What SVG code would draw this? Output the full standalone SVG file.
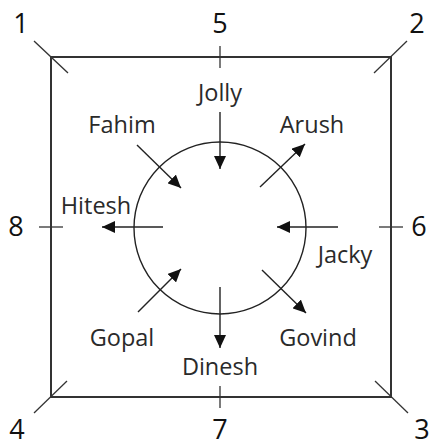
<svg xmlns="http://www.w3.org/2000/svg" width="435" height="442" viewBox="0 0 435 442">
<style>
.frame{fill:none;stroke:#333;stroke-width:2}
.tick{stroke:#333;stroke-width:1.3}
.num{font-family:"Open Sans","Noto Sans",sans-serif;font-size:27px;fill:#111;text-anchor:middle}
.lbl{font-family:"Open Sans","Noto Sans",sans-serif;font-size:23.5px;fill:#2a2a2a;text-anchor:middle}
.arr{stroke:#222;stroke-width:1.4;fill:none;marker-end:url(#ah)}
</style>
<defs>
<marker id="ah" markerUnits="userSpaceOnUse" markerWidth="14" markerHeight="12" viewBox="0 0 14 12" refX="13" refY="6" orient="auto">
<path d="M0,0 L13,6 L0,12 Z" fill="#111"/>
</marker>
</defs>
<rect fill="#fff" width="435" height="442"/>
<g id="frame">
<rect class="frame" x="51" y="57" width="340" height="340"/>
<line class="tick" x1="34" y1="41" x2="68" y2="73"/>
<line class="tick" x1="407" y1="41" x2="374" y2="73"/>
<line class="tick" x1="408" y1="413" x2="375" y2="381"/>
<line class="tick" x1="34" y1="413" x2="67" y2="381"/>
<line class="tick" x1="220" y1="46" x2="220" y2="68"/>
<line class="tick" x1="220" y1="386" x2="220" y2="408"/>
<line class="tick" x1="39" y1="227" x2="63" y2="227"/>
<line class="tick" x1="379" y1="227" x2="403" y2="227"/>
</g>
<g id="positions">
<text class="num" x="21" y="33">1</text>
<text class="num" x="220" y="33">5</text>
<text class="num" x="417" y="33">2</text>
<text class="num" x="16" y="236">8</text>
<text class="num" x="419" y="236">6</text>
<text class="num" x="17" y="439">4</text>
<text class="num" x="220" y="439">7</text>
<text class="num" x="422" y="439">3</text>
</g>
<g id="table">
<circle cx="220" cy="228" r="86" fill="none" stroke="#222" stroke-width="1.4"/>
</g>
<g id="connectors">
<line class="arr" x1="220" y1="112" x2="220" y2="169"/>
<line class="arr" x1="137" y1="145" x2="181" y2="188"/>
<line class="arr" x1="260" y1="187" x2="305" y2="144"/>
<line class="arr" x1="163" y1="227" x2="102" y2="227"/>
<line class="arr" x1="338" y1="227" x2="277" y2="227"/>
<line class="arr" x1="262" y1="270" x2="306" y2="313"/>
<line class="arr" x1="138" y1="312" x2="181" y2="269"/>
<line class="arr" x1="220" y1="287" x2="220" y2="348"/>
</g>
<g id="jolly"><text class="lbl" x="220" y="101">Jolly</text></g>
<g id="fahim"><text class="lbl" x="122" y="133">Fahim</text></g>
<g id="arush"><text class="lbl" x="312" y="133">Arush</text></g>
<g id="hitesh"><text class="lbl" x="96" y="214">Hitesh</text></g>
<g id="jacky"><text class="lbl" x="345" y="263">Jacky</text></g>
<g id="gopal"><text class="lbl" x="122" y="346">Gopal</text></g>
<g id="govind"><text class="lbl" x="318" y="346">Govind</text></g>
<g id="dinesh"><text class="lbl" x="220" y="375">Dinesh</text></g>
</svg>
